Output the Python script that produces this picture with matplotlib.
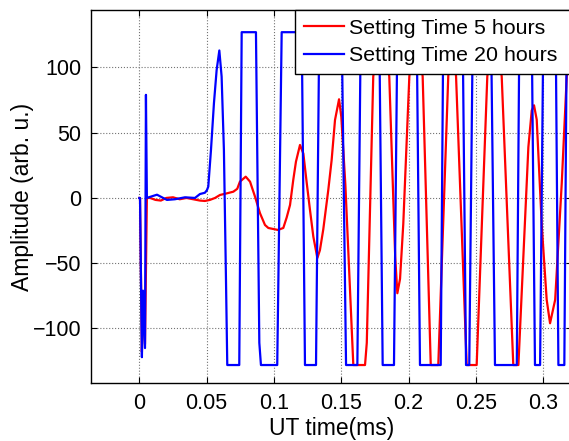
import matplotlib
matplotlib.use('Agg')
import matplotlib.pyplot as plt

plt.rcParams['font.family'] = ['Liberation Sans', 'DejaVu Sans']

# ultrasonic traces (time in ms, amplitude in arb. units, 8-bit clipped)
t_5h = [0, 0.0005, 0.0019, 0.0027, 0.0042, 0.0056, 0.008, 0.012, 0.016, 0.020, 0.025,
        0.030, 0.035, 0.040, 0.045, 0.0487, 0.0524, 0.0562, 0.0599, 0.0649, 0.0698,
        0.0727, 0.0747, 0.0790, 0.0822, 0.0859, 0.0896, 0.0933, 0.0958, 0.1029, 0.1069,
        0.1094, 0.1119, 0.1143, 0.1163, 0.1193, 0.1218, 0.1243, 0.1267, 0.1292, 0.1322,
        0.1341, 0.1366, 0.1403, 0.1428, 0.1453, 0.1483, 0.1500, 0.1530, 0.1560, 0.1589,
        0.1676, 0.1689, 0.1737, 0.1780, 0.1815, 0.1856, 0.1900, 0.1916, 0.1936, 0.1960,
        0.2005, 0.2040, 0.2070, 0.2104, 0.2164, 0.2220, 0.2294, 0.2318, 0.2328, 0.2352,
        0.2431, 0.2505, 0.2584, 0.2625, 0.2650, 0.2691, 0.2777, 0.2815, 0.2889, 0.2914,
        0.2931, 0.2951, 0.2989, 0.3025, 0.3050, 0.3088, 0.3137, 0.3174, 0.3210]
amp_5h = [0, 0, -118, -72, -112, 0, 0, -1.5, -2, 0, 0.5,
          -1, 0, -1, -2, -2.3, -1.5, 0, 2.3, 3.5, 4.8,
          7, 12.5, 16.3, 12.5, 1, -11.7, -20.7, -23, -24.5, -23,
          -15, -5.4, 13.8, 27.8, 40.6, 34, 11.5, -9, -29.6, -46,
          -40, -24, 6, 29, 59.7, 75.6, 62, 10, -60, -128,
          -128, -111, 93, 127, 127, 93, -45, -73, -62, -20,
          93, 127, 127, 93, -128, -128, 93, 127, 127, 93,
          -128, -128, 93, 127, 127, 93, -128, -128, 39, 67,
          71, 60, -22, -78, -96, -78, 11.5, 93, 127]

t_20h = [0, 0.0005, 0.0019, 0.0027, 0.0042, 0.0049, 0.0056, 0.0079, 0.0131, 0.0205,
         0.0264, 0.0339, 0.0413, 0.0450, 0.0487, 0.0502, 0.0512, 0.0532, 0.0554, 0.0574,
         0.0594, 0.0611, 0.0628, 0.0643, 0.0653, 0.0742, 0.0760, 0.0866, 0.0891, 0.0903,
         0.1024, 0.1057, 0.1206, 0.1230, 0.1312, 0.1336, 0.1503, 0.1535, 0.1619, 0.1644,
         0.1782, 0.1807, 0.1891, 0.1916, 0.2060, 0.2084, 0.2238, 0.2257, 0.2401, 0.2426,
         0.2450, 0.2476, 0.2612, 0.2641, 0.2803, 0.2822, 0.2914, 0.2938, 0.2976, 0.3000,
         0.3092, 0.3112, 0.3156, 0.3174, 0.3220]
amp_20h = [0, 0, -122, -71, -115, 79, 0, 0.8, 2.5, -1.5,
           -1, 0.5, 0, 3, 4, 6, 8.7, 36.8, 72.6, 98,
           113, 93, 36.8, -60, -128, -128, 127, 127, -111, -128,
           -128, 127, 127, -128, -128, 127, 127, -128, -128, 127,
           127, -128, -128, 127, 127, -128, -128, 127, 127, -128,
           -128, 127, 127, -128, -128, 127, 127, -128, -128, 127,
           127, -128, -128, 127, 127]

xticks = [0, 0.05, 0.1, 0.15, 0.2, 0.25, 0.3]
xtick_labels = ['0', '0.05', '0.1', '0.15', '0.2', '0.25', '0.3']
yticks = [-100, -50, 0, 50, 100]

W, H = 569, 441
x0, x1 = 91, 572
fig = plt.figure(figsize=(W / 100, H / 100), dpi=100)
ax = fig.add_axes([x0 / W, 1 - 383.3 / H, (x1 - x0) / W, (383.3 - 10) / H])

ax.plot(t_5h, amp_5h, color='#ff0000', lw=1.6, label='Setting Time 5 hours')
ax.plot(t_20h, amp_20h, color='#0000ff', lw=1.6, label='Setting Time 20 hours')

ax.set_xlim(-0.0359, 0.3213)
ax.set_ylim(-142, 144)
ax.set_xticks(xticks)
ax.set_xticklabels(xtick_labels)
ax.set_yticks(yticks)
ax.tick_params(direction='in', length=4, width=0.8, labelsize=15.5, pad=7,
               top=True, right=True, colors='black')
ax.grid(True, color='0.45', linestyle=':', linewidth=0.8)
for s in ax.spines.values():
    s.set_linewidth(1.0)
    s.set_color('black')

ax.set_xlabel('UT time(ms)', fontsize=16.5, labelpad=2)
ax.set_ylabel('Amplitude (arb. u.)', fontsize=16.5, labelpad=-1)

# legend box runs past the right edge of the figure
lx = (295 - x0) / (x1 - x0)
leg = ax.legend(loc='upper left', bbox_to_anchor=(lx, 0, 1.1 - lx, 1.0), mode='expand',
                fontsize=15.4, handlelength=1.85, handletextpad=0.25,
                borderaxespad=0, borderpad=0.42, labelspacing=0.38,
                fancybox=False, framealpha=1, edgecolor='black')
leg.get_frame().set_linewidth(1.0)

fig.savefig('out.png', dpi=100)
